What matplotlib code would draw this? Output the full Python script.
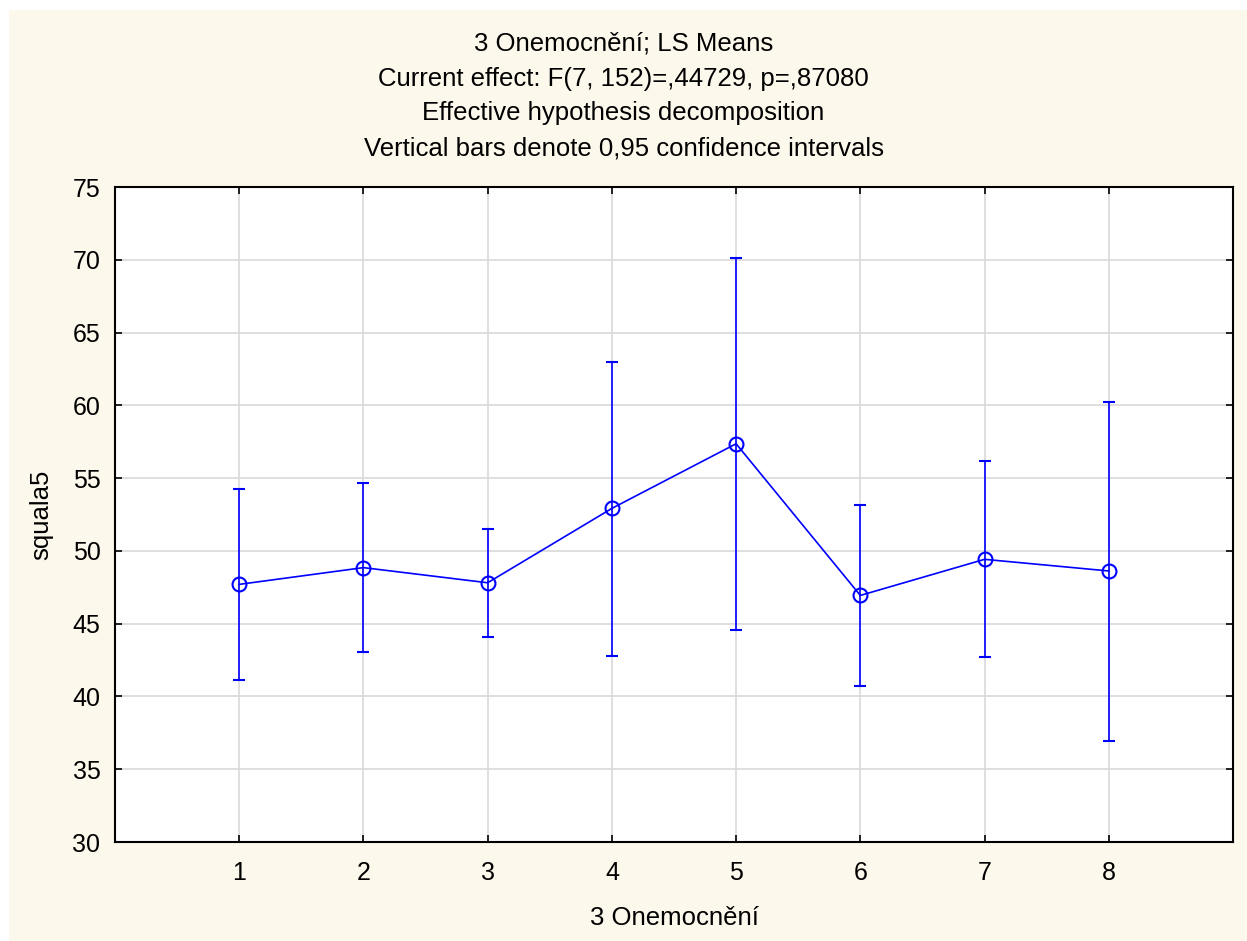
import matplotlib
matplotlib.use('Agg')
import matplotlib.pyplot as plt
from matplotlib.patches import Rectangle

plt.rcParams['font.family'] = ['Liberation Sans', 'DejaVu Sans']

# Данные: средние и границы 95% доверительных интервалов
groups = [1, 2, 3, 4, 5, 6, 7, 8]
means = [47.70, 48.85, 47.81, 52.92, 57.36, 46.94, 49.42, 48.62]
upper = [54.25, 54.68, 51.50, 62.98, 70.10, 53.17, 56.15, 60.23]
lower = [41.13, 43.03, 44.08, 42.80, 44.56, 40.74, 42.71, 36.94]
y_ticks = [30, 35, 40, 45, 50, 55, 60, 65, 70, 75]

title_lines = ['3 Onemocnění; LS Means',
               'Current effect: F(7, 152)=,44729, p=,87080',
               'Effective hypothesis decomposition',
               'Vertical bars denote 0,95 confidence intervals']

W, H = 1247, 941
fig = plt.figure(figsize=(W / 100, H / 100), dpi=100, facecolor='white')
# кремовый фон с белой полосой сверху и слева
fig.patches.append(Rectangle((9 / W, 0), 1, (H - 10) / H, transform=fig.transFigure,
                             facecolor='#fdf8ec', edgecolor='none', zorder=-10))

ax = fig.add_axes([115 / W, 1 - 842 / H, (1233 - 115) / W, (842 - 187) / H])
ax.set_facecolor('white')

yerr = [[m - l for m, l in zip(means, lower)], [u - m for m, u in zip(means, upper)]]
ax.errorbar(groups, means, yerr=yerr, color='#0000ff', lw=1.2, elinewidth=1.2,
            capsize=4.3, capthick=1.2, marker='o', ms=10, mfc='none', mew=1.5,
            zorder=3)

ax.set_xlim(0, 9)
ax.set_ylim(30, 75)
ax.set_xticks(groups)
ax.set_yticks(y_ticks)
ax.grid(True, color='#d9d9d9', lw=1.2, zorder=0)
ax.set_axisbelow(True)
ax.tick_params(direction='in', top=True, right=True, length=5, width=1.2,
               labelsize=18, colors='black')
ax.tick_params(axis='x', pad=14)
ax.tick_params(axis='y', pad=10.5)
for s in ax.spines.values():
    s.set_linewidth(1.5)
    s.set_color('black')

ax.set_xlabel('3 Onemocnění', fontsize=18.5, labelpad=15)
ax.set_ylabel('squala5', fontsize=18.5, labelpad=14)

# заголовок по центру всей картинки
for i, line in enumerate(title_lines):
    fig.text(0.5, 1 - (44 + 34.7 * i) / H, line,
             ha='center', va='center', fontsize=18.5)

fig.savefig('out.png', dpi=100, facecolor=fig.get_facecolor())
